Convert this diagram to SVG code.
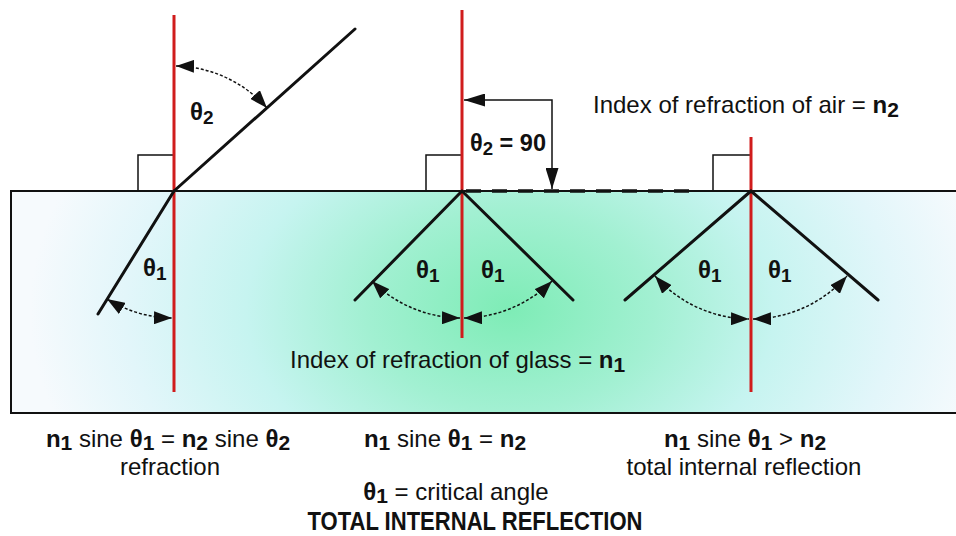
<svg xmlns="http://www.w3.org/2000/svg" width="956" height="536" viewBox="0 0 956 536">
<style>
.ray{stroke:#111;stroke-width:3;fill:none;stroke-linecap:round}
.normal{stroke:#d01c1c;stroke-width:3;fill:none}
.box{stroke:#111;stroke-width:1.5;fill:none}
.arc{stroke:#111;stroke-width:1.5;fill:none;stroke-dasharray:3 2;marker-start:url(#ah);marker-end:url(#ah)}
.brk{stroke:#111;stroke-width:1.5;fill:none;marker-start:url(#ah2);marker-end:url(#ah2)}
.dash{stroke:#111;stroke-width:3.5;fill:none;stroke-dasharray:15 11}
text{font-family:"Liberation Sans",Arial,sans-serif;fill:#111}
.t{font-size:24px}
.th{font-size:24px;font-weight:bold}
.b{font-weight:bold}
.s{font-size:21px;font-weight:bold}
.ts{font-size:19px;font-weight:bold}
</style>
<defs>
<radialGradient id="glassg" gradientUnits="userSpaceOnUse" cx="510" cy="310" r="480" gradientTransform="translate(510,310) scale(1,0.7) translate(-510,-310)">
<stop offset="0" stop-color="#7eecb6"/>
<stop offset="0.3" stop-color="#a2f0d2"/>
<stop offset="0.55" stop-color="#c6f4f0"/>
<stop offset="0.8" stop-color="#e2f6fa"/>
<stop offset="1" stop-color="#f6fafd"/>
</radialGradient>
<marker id="ah" viewBox="0 0 10 10" refX="10" refY="5" markerWidth="18" markerHeight="13" markerUnits="userSpaceOnUse" orient="auto-start-reverse" preserveAspectRatio="none">
<path d="M0,0 L10,5 L0,10 z" fill="#111" stroke="none"/>
</marker>
<marker id="ah2" viewBox="0 0 10 10" refX="10" refY="5" markerWidth="21" markerHeight="13" markerUnits="userSpaceOnUse" orient="auto-start-reverse" preserveAspectRatio="none">
<path d="M0,0 L10,5 L0,10 z" fill="#111" stroke="none"/>
</marker>
</defs>
<rect width="956" height="536" fill="#fff"/>
<g id="glass">
<rect x="11" y="191" width="950" height="222" fill="url(#glassg)" stroke="#111" stroke-width="2"/>
</g>
<g id="refraction">
<path class="box" d="M138,191 V155 H174"/>
<line class="normal" x1="174" y1="15" x2="174" y2="392"/>
</g>
<g id="critical">
<path class="box" d="M426,191 V155 H462"/>
<line class="normal" x1="462" y1="10" x2="462" y2="338"/>
</g>
<g id="tir">
<path class="box" d="M713,191 V155 H751"/>
<line class="normal" x1="751" y1="137" x2="751" y2="392"/>
</g>
<g id="connectors">
<line class="ray" x1="174" y1="191" x2="355" y2="29"/>
<line class="ray" x1="174" y1="191" x2="98" y2="314"/>
<path class="arc" d="M176,66 A125,125 0 0 1 267,108"/>
<path class="arc" d="M107,299 A127,127 0 0 0 172,318"/>
<line class="ray" x1="462" y1="191" x2="355" y2="300"/>
<line class="ray" x1="462" y1="191" x2="573" y2="300"/>
<line class="dash" x1="466" y1="191" x2="700" y2="191"/>
<path class="brk" d="M464,100 H552 V189"/>
<path class="arc" d="M372,281 A127,127 0 0 0 460,318"/>
<path class="arc" d="M464,318 A127,127 0 0 0 552,281"/>
<line class="ray" x1="751" y1="191" x2="625" y2="300"/>
<line class="ray" x1="751" y1="191" x2="878" y2="300"/>
<path class="arc" d="M655,276 A128,128 0 0 0 749,319"/>
<path class="arc" d="M753,319 A128,128 0 0 0 847,276"/>
</g>
<g id="labels">
<text x="190" y="120" class="th">θ<tspan class="ts" dy="4">2</tspan></text>
<text x="143" y="276" class="th">θ<tspan class="ts" dy="4">1</tspan></text>
<text x="416" y="278" class="th">θ<tspan class="ts" dy="4">1</tspan></text>
<text x="481" y="278" class="th">θ<tspan class="ts" dy="4">1</tspan></text>
<text x="698" y="278" class="th">θ<tspan class="ts" dy="4">1</tspan></text>
<text x="768" y="278" class="th">θ<tspan class="ts" dy="4">1</tspan></text>
<text x="470" y="151" class="th" textLength="76" lengthAdjust="spacingAndGlyphs">θ<tspan class="ts" dy="4">2</tspan><tspan dy="-4"> = 90</tspan></text>
<text x="593" y="113" class="t">Index of refraction of air = <tspan class="b">n</tspan><tspan class="s" dy="4">2</tspan></text>
<text x="290" y="368" class="t">Index of refraction of glass = <tspan class="b">n</tspan><tspan class="s" dy="4">1</tspan></text>
<text x="168" y="447" class="t" text-anchor="middle"><tspan class="b">n</tspan><tspan class="s" dy="3">1</tspan><tspan dy="-3"> sine </tspan><tspan class="b">θ</tspan><tspan class="s" dy="3">1</tspan><tspan dy="-3"> = </tspan><tspan class="b">n</tspan><tspan class="s" dy="3">2</tspan><tspan dy="-3"> sine </tspan><tspan class="b">θ</tspan><tspan class="s" dy="3">2</tspan></text>
<text x="170" y="475" class="t" text-anchor="middle">refraction</text>
<text x="445" y="447" class="t" text-anchor="middle"><tspan class="b">n</tspan><tspan class="s" dy="3">1</tspan><tspan dy="-3"> sine </tspan><tspan class="b">θ</tspan><tspan class="s" dy="3">1</tspan><tspan dy="-3"> = </tspan><tspan class="b">n</tspan><tspan class="s" dy="3">2</tspan></text>
<text x="456" y="500" class="t" text-anchor="middle"><tspan class="b">θ</tspan><tspan class="s" dy="3">1</tspan><tspan dy="-3"> = critical angle</tspan></text>
<text x="745" y="447" class="t" text-anchor="middle"><tspan class="b">n</tspan><tspan class="s" dy="3">1</tspan><tspan dy="-3"> sine </tspan><tspan class="b">θ</tspan><tspan class="s" dy="3">1</tspan><tspan dy="-3"> &gt; </tspan><tspan class="b">n</tspan><tspan class="s" dy="3">2</tspan></text>
<text x="744" y="475" class="t" text-anchor="middle">total internal reflection</text>
<text x="475" y="530" font-size="25" font-weight="bold" text-anchor="middle" textLength="335" lengthAdjust="spacingAndGlyphs">TOTAL INTERNAL REFLECTION</text>
</g>
</svg>
